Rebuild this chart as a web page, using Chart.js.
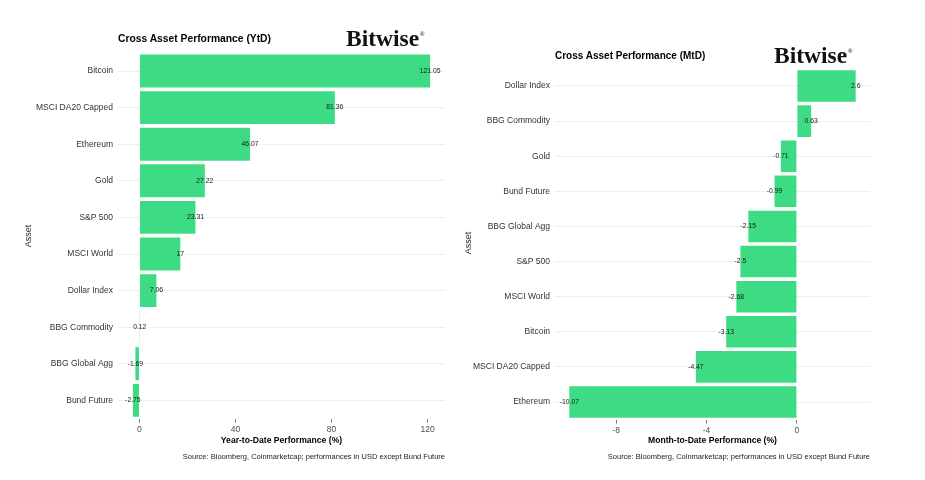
<!DOCTYPE html>
<html>
<head>
<meta charset="utf-8">
<script src="https://cdn.jsdelivr.net/npm/chart.js@4/dist/chart.umd.min.js"></script>
<style>
  html, body { margin:0; padding:0; background:#fff; }
  body { width:925px; height:480px; position:relative; overflow:hidden; font-family:"Liberation Sans", Arial, sans-serif; }
  canvas { position:absolute; top:0; }
  .t { position:absolute; white-space:nowrap; line-height:12px; color:#000; }
  .title { font-weight:bold; font-size:10.3px; }
  .logo { font-family:"Liberation Serif","Times New Roman",serif; font-weight:bold; font-size:23.5px; line-height:26px; color:#111; }
  .logo span { font-size:6px; position:relative; top:-10px; margin-left:1px; }
  .xt { font-weight:bold; font-size:8.6px; text-align:center; }
  .src { font-size:7.5px; color:#222; text-align:right; }
  .asset { font-size:9px; color:#222; transform:rotate(-90deg); transform-origin:center center; }
</style>
</head>
<body>
<canvas id="c1" width="460" height="480" style="left:0px"></canvas>
<canvas id="c2" width="465" height="480" style="left:460px"></canvas>

<div class="t title" style="left:118px; top:33px;">Cross Asset Performance (YtD)</div>
<div class="t logo" style="left:346px; top:25px;">Bitwise<span>®</span></div>
<div class="t xt" style="left:118px; width:327px; top:434px;">Year-to-Date Performance (%)</div>
<div class="t src" style="left:118px; width:327px; top:451px;">Source: Bloomberg, Coinmarketcap; performances in USD except Bund Future</div>
<div class="t asset" style="left:13px; top:230px; width:30px; text-align:center;">Asset</div>

<div class="t title" style="left:555px; top:50px; font-size:10px;">Cross Asset Performance (MtD)</div>
<div class="t logo" style="left:774px; top:42px;">Bitwise<span>®</span></div>
<div class="t xt" style="left:555px; width:315px; top:434px;">Month-to-Date Performance (%)</div>
<div class="t src" style="left:555px; width:315px; top:451px;">Source: Bloomberg, Coinmarketcap; performances in USD except Bund Future</div>
<div class="t asset" style="left:453px; top:237px; width:30px; text-align:center;">Asset</div>

<script>
const ytdCategories = ['Bitcoin','MSCI DA20 Capped','Ethereum','Gold','S&P 500','MSCI World','Dollar Index','BBG Commodity','BBG Global Agg','Bund Future'];
const ytdValues = [121.05, 81.36, 46.07, 27.22, 23.31, 17, 7.06, 0.12, -1.69, -2.75];
const ytdTicks = [0, 40, 80, 120];

const mtdCategories = ['Dollar Index','BBG Commodity','Gold','Bund Future','BBG Global Agg','S&P 500','MSCI World','Bitcoin','MSCI DA20 Capped','Ethereum'];
const mtdValues = [2.6, 0.63, -0.71, -0.99, -2.15, -2.5, -2.68, -3.13, -4.47, -10.07];
const mtdTicks = [-8, -4, 0];

const BAR = '#3ddc84';
const FONT = '"Liberation Sans", Arial, sans-serif';

const valueLabels = {
  id: 'valueLabels',
  afterDatasetsDraw(chart) {
    const ctx = chart.ctx;
    const meta = chart.getDatasetMeta(0);
    const data = chart.data.datasets[0].data;
    ctx.save();
    ctx.font = '6.8px ' + FONT;
    ctx.fillStyle = '#1a1a1a';
    ctx.textAlign = 'center';
    ctx.textBaseline = 'middle';
    meta.data.forEach((el, i) => {
      ctx.fillText(String(data[i]), el.x, el.y);
    });
    ctx.restore();
  }
};

function makeChart(id, cats, vals, ticks, yWidth, pad) {
  const lo = Math.min(0, ...vals), hi = Math.max(0, ...vals);
  const ext = (hi - lo) * 0.05;
  return new Chart(document.getElementById(id), {
    type: 'bar',
    data: {
      labels: cats,
      datasets: [{ data: vals, backgroundColor: BAR, borderWidth: 0, barPercentage: 0.9, categoryPercentage: 1.0 }]
    },
    options: {
      indexAxis: 'y',
      responsive: false,
      animation: false,
      layout: { padding: pad },
      plugins: { legend: { display: false }, tooltip: { enabled: false } },
      scales: {
        x: {
          type: 'linear',
          min: lo - ext,
          max: hi + ext,
          afterBuildTicks: (s) => { s.ticks = ticks.map(v => ({ value: v })); },
          afterFit: (s) => { s.height = 28; },
          grid: { display: true, drawOnChartArea: false, drawTicks: true, tickLength: 4, color: '#777', tickColor: '#777', tickWidth: 1 },
          border: { display: false },
          ticks: { font: { family: FONT, size: 8.5 }, color: '#4d4d4d', padding: 2, maxRotation: 0 }
        },
        y: {
          type: 'category',
          afterFit: (s) => { s.width = yWidth; },
          grid: { display: true, offset: false, drawTicks: false, color: '#efefef', lineWidth: 1 },
          border: { display: false },
          ticks: { font: { family: FONT, size: 8.5 }, color: '#333', padding: 5 }
        }
      }
    },
    plugins: [valueLabels]
  });
}

makeChart('c1', ytdCategories, ytdValues, ytdTicks, 118, { top: 52.7, right: 15, bottom: 33.3, left: 0 });
makeChart('c2', mtdCategories, mtdValues, mtdTicks, 95, { top: 68.4, right: 55, bottom: 32.4, left: 0 });
</script>
</body>
</html>
